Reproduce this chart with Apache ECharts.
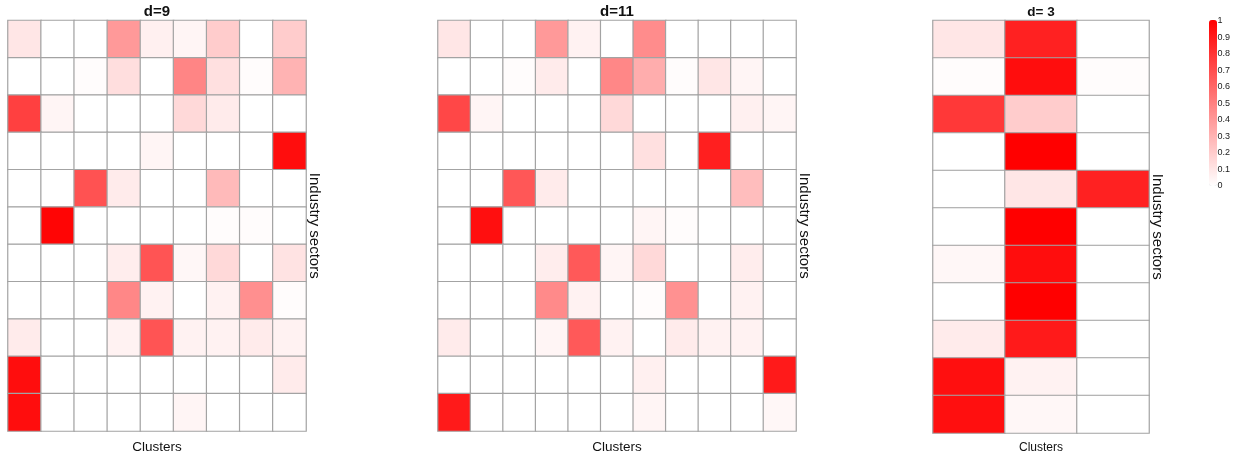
<!DOCTYPE html>
<html><head><meta charset="utf-8">
<script src="https://cdn.jsdelivr.net/npm/echarts@6/dist/echarts.min.js"></script>
<style>html,body{margin:0;padding:0;background:#fff}#c{width:1233px;height:459px}</style>
</head><body><div id="c"></div>
<script>
// Panel titles
const titles = ['d=9', 'd=11', 'd= 3'];
// Row count (industry sectors) per panel
const rowsCount = 11;
// Colour bar tick labels
const scaleTicks = [0, 0.1, 0.2, 0.3, 0.4, 0.5, 0.6, 0.7, 0.8, 0.9, 1];

// d=9 : 11 rows (top -> bottom) x 9 clusters
const d9 = [
  [0.10, 0, 0, 0.40, 0.06, 0.04, 0.20, 0, 0.20],
  [0, 0, 0.01, 0.13, 0, 0.48, 0.12, 0.01, 0.30],
  [0.75, 0.04, 0, 0, 0, 0.15, 0.08, 0, 0],
  [0, 0, 0, 0, 0.04, 0, 0, 0, 0.95],
  [0, 0, 0.68, 0.08, 0, 0, 0.27, 0, 0],
  [0, 0.98, 0, 0, 0, 0, 0.01, 0.01, 0],
  [0, 0, 0, 0.07, 0.67, 0.03, 0.15, 0, 0.11],
  [0, 0, 0, 0.47, 0.05, 0, 0.05, 0.44, 0.01],
  [0.08, 0, 0, 0.05, 0.67, 0.05, 0.05, 0.08, 0.05],
  [0.95, 0, 0, 0, 0, 0, 0, 0, 0.08],
  [0.95, 0, 0, 0, 0, 0.04, 0, 0, 0]
];
// d=11 : 11 rows x 11 clusters
const d11 = [
  [0.10, 0, 0, 0.40, 0.05, 0, 0.45, 0, 0, 0, 0],
  [0, 0, 0.01, 0.08, 0, 0.47, 0.32, 0.01, 0.10, 0.04, 0],
  [0.72, 0.04, 0, 0, 0, 0.15, 0, 0, 0, 0.06, 0.04],
  [0, 0, 0, 0, 0, 0, 0.12, 0, 0.88, 0, 0],
  [0, 0, 0.66, 0.08, 0, 0, 0, 0, 0, 0.26, 0],
  [0, 0.94, 0, 0, 0, 0, 0.04, 0.01, 0, 0, 0],
  [0, 0, 0, 0.07, 0.65, 0.04, 0.15, 0, 0, 0.07, 0],
  [0, 0, 0, 0.46, 0.05, 0, 0.01, 0.43, 0, 0.05, 0],
  [0.08, 0, 0, 0.04, 0.65, 0.05, 0, 0.08, 0.05, 0.05, 0],
  [0, 0, 0, 0, 0, 0, 0.06, 0, 0, 0, 0.90],
  [0.90, 0, 0, 0, 0, 0, 0.04, 0, 0, 0, 0.03]
];
// d=3 : 11 rows x 3 clusters
const d3 = [
  [0.10, 0.87, 0],
  [0.01, 0.95, 0.01],
  [0.78, 0.20, 0],
  [0, 1.00, 0],
  [0, 0.10, 0.87],
  [0, 1.00, 0],
  [0.03, 0.95, 0],
  [0, 1.00, 0],
  [0.08, 0.90, 0],
  [0.94, 0.05, 0],
  [0.94, 0.03, 0]
];

const panels = [d9, d11, d3];
const gridBoxes = [
  {left: 8, width: 298},
  {left: 438, width: 358},
  {left: 933, width: 216}
];
const gridTop = 20.5, gridHeight = 414;
const baseFont = 'Liberation Sans, Arial, sans-serif';

const grid = [], xAxis = [], yAxis = [], series = [], title = [];
panels.forEach((mat, p) => {
  const small = p === 2;
  grid.push({left: gridBoxes[p].left, top: gridTop, width: gridBoxes[p].width, height: gridHeight});
  xAxis.push({
    type: 'category', gridIndex: p,
    data: mat[0].map((_, i) => String(i + 1)),
    name: 'Clusters', nameLocation: 'middle', nameGap: 9,
    nameTextStyle: {fontFamily: baseFont, fontSize: small ? 12 : 13.5, color: '#111'},
    axisLine: {show: false}, axisTick: {show: false}, axisLabel: {show: false}, splitLine: {show: false}
  });
  yAxis.push({
    type: 'category', gridIndex: p, inverse: true, position: 'right',
    data: Array.from({length: rowsCount}, (_, i) => String(i + 1)),
    name: 'Industry sectors', nameLocation: 'middle', nameGap: 1, nameRotate: -90,
    nameTextStyle: {fontFamily: baseFont, fontSize: 15, color: '#111'},
    axisLine: {show: false}, axisTick: {show: false}, axisLabel: {show: false}, splitLine: {show: false}
  });
  const data = [];
  mat.forEach((row, r) => row.forEach((v, c) => data.push([c, r, v])));
  series.push({
    type: 'heatmap', xAxisIndex: p, yAxisIndex: p, data: data,
    itemStyle: {borderColor: '#a3a3a3', borderWidth: 1.2},
    emphasis: {disabled: true}, animation: false
  });
  title.push({
    text: titles[p], padding: 0,
    left: gridBoxes[p].left + gridBoxes[p].width / 2, top: small ? 5 : 4, textAlign: 'center',
    textStyle: {fontFamily: baseFont, fontSize: small ? 13.5 : 15, fontWeight: 'bold', color: '#111'}
  });
});

// colour bar scale axis
grid.push({left: 1209, top: 21, width: 8, height: 165});
xAxis.push({type: 'value', gridIndex: 3, show: false});
yAxis.push({
  type: 'value', gridIndex: 3, position: 'right', min: 0, max: 1, interval: 0.1,
  axisLine: {show: false}, axisTick: {show: false}, splitLine: {show: false},
  axisLabel: {fontSize: 9, color: '#222', margin: 4, fontFamily: baseFont,
    formatter: v => { const f = scaleTicks.find(t => Math.abs(t - v) < 1e-6); return f === undefined ? '' : String(f); }}
});

const chart = echarts.init(document.getElementById('c'), null, {renderer: 'canvas'});
chart.setOption({
  backgroundColor: '#fff',
  animation: false,
  title: title,
  grid: grid, xAxis: xAxis, yAxis: yAxis,
  visualMap: {
    type: 'continuous', min: 0, max: 1, calculable: false,
    seriesIndex: [0, 1, 2], orient: 'vertical',
    left: 1209, top: 20, itemWidth: 8, itemHeight: 166, padding: 0,
    inRange: {color: ['#ffffff', '#ff0000']},
    textStyle: {color: '#222'}, text: null, showLabel: false
  },
  series: series
});
</script></body></html>
